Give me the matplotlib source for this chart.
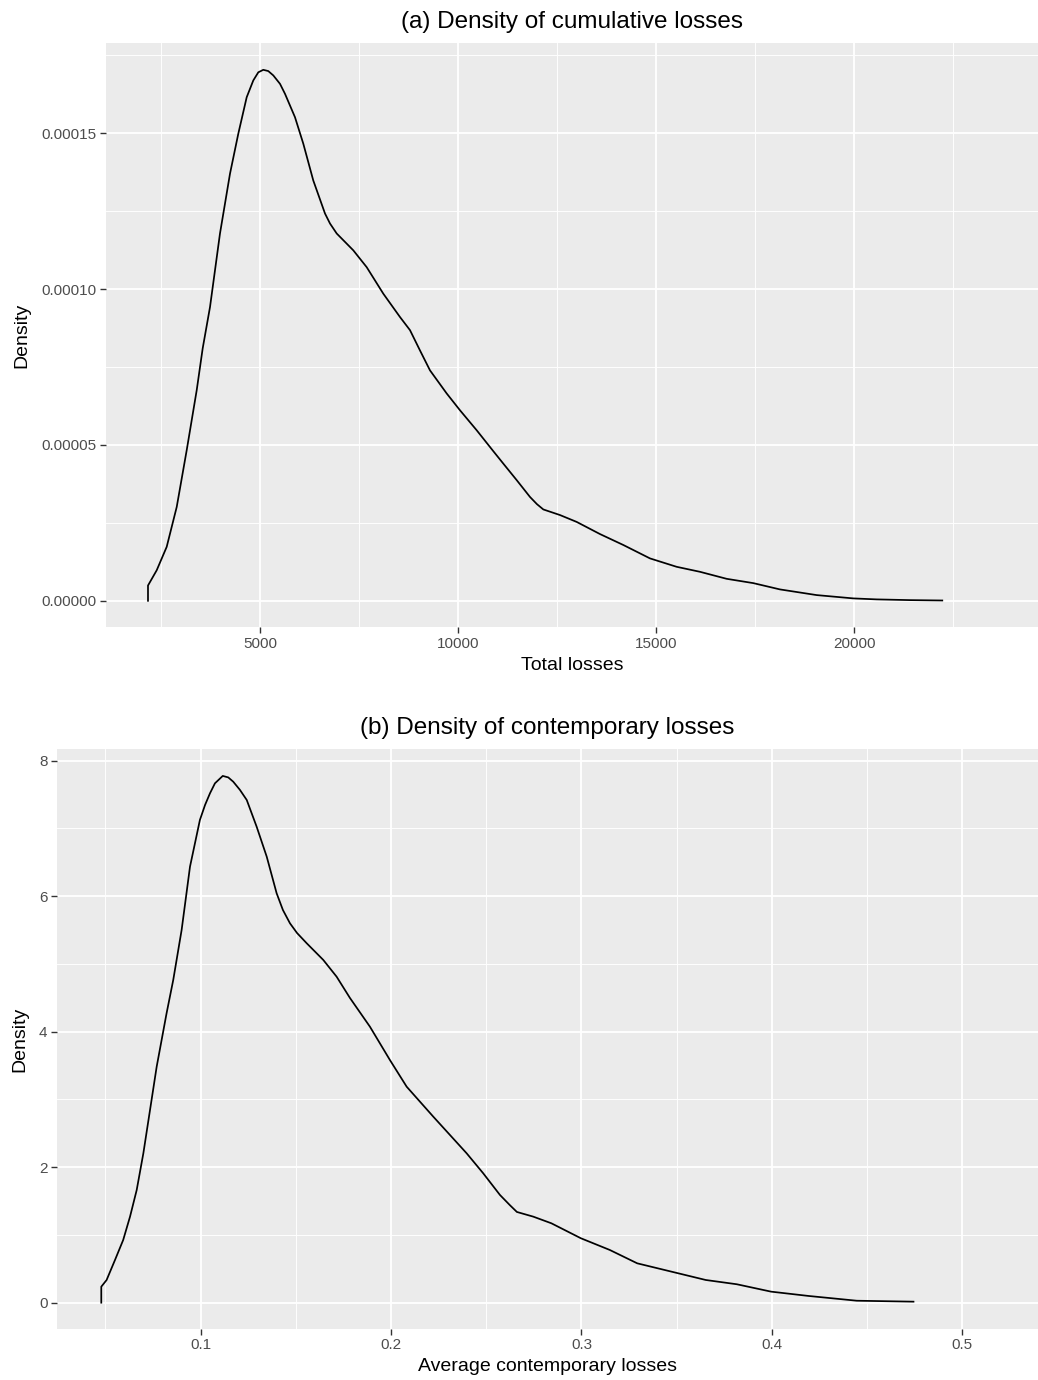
import matplotlib
matplotlib.use("Agg")
import matplotlib.pyplot as plt
from matplotlib.ticker import FixedLocator, FuncFormatter

plt.rcParams['font.family'] = ['Liberation Sans', 'DejaVu Sans']

# ---------------- data ----------------
# (a) Density of cumulative losses
total_losses = [2173, 2173, 2393, 2645, 2898, 3150, 3402, 3554, 3738, 3990, 4243, 4452,
                4664, 4831, 4957, 5083, 5209, 5336, 5505, 5631, 5883, 6093, 6345, 6641,
                6767, 6936, 7355, 7693, 8112, 8534, 8786, 9038, 9291, 9712, 10048, 10469,
                10888, 11141, 11479, 11815, 11990, 12151, 12572, 12993, 13582, 14170,
                14843, 15517, 16105, 16779, 17451, 18125, 19051, 19975, 20565, 21406,
                22221]
density_a = [0.0, 0.49e-5, 0.98e-5, 1.73e-5, 3.01e-5, 4.83e-5, 6.75e-5, 8.10e-5, 9.42e-5,
             11.78e-5, 13.70e-5, 14.98e-5, 16.15e-5, 16.69e-5, 16.95e-5, 17.03e-5,
             16.99e-5, 16.85e-5, 16.58e-5, 16.26e-5, 15.51e-5, 14.66e-5, 13.48e-5,
             12.42e-5, 12.10e-5, 11.78e-5, 11.24e-5, 10.70e-5, 9.85e-5, 9.10e-5, 8.68e-5,
             8.03e-5, 7.39e-5, 6.65e-5, 6.11e-5, 5.47e-5, 4.80e-5, 4.40e-5, 3.87e-5,
             3.33e-5, 3.10e-5, 2.93e-5, 2.75e-5, 2.53e-5, 2.14e-5, 1.79e-5, 1.36e-5,
             1.09e-5, 0.93e-5, 0.705e-5, 0.567e-5, 0.365e-5, 0.183e-5, 0.077e-5,
             0.045e-5, 0.022e-5, 0.01e-5]
ticks_a_x = [5000, 10000, 15000, 20000]
ticks_a_y = [0.0, 0.00005, 0.00010, 0.00015]

# (b) Density of contemporary losses
avg_losses = [0.0478, 0.0478, 0.0506, 0.0550, 0.0593, 0.0629, 0.0664, 0.0699, 0.0734,
              0.0769, 0.0821, 0.0856, 0.0900, 0.0944, 0.0996, 0.1023, 0.1049, 0.1075,
              0.1116, 0.1145, 0.1171, 0.1206, 0.1242, 0.1294, 0.1347, 0.1399, 0.1432,
              0.1469, 0.1506, 0.1557, 0.1644, 0.1714, 0.1784, 0.1889, 0.1994, 0.2082,
              0.2222, 0.2397, 0.2484, 0.2572, 0.2624, 0.2661, 0.2747, 0.2842, 0.2997,
              0.3149, 0.3293, 0.3473, 0.3653, 0.3816, 0.3996, 0.4194, 0.4446, 0.4744]
density_b = [0.0, 0.236, 0.335, 0.630, 0.925, 1.270, 1.663, 2.205, 2.844, 3.484, 4.272,
             4.764, 5.501, 6.436, 7.125, 7.346, 7.519, 7.666, 7.775, 7.753, 7.690, 7.570,
             7.420, 7.026, 6.583, 6.043, 5.796, 5.600, 5.457, 5.305, 5.059, 4.812, 4.498,
             4.074, 3.582, 3.188, 2.745, 2.205, 1.910, 1.590, 1.440, 1.339, 1.270, 1.172,
             0.951, 0.778, 0.581, 0.458, 0.335, 0.272, 0.163, 0.099, 0.029, 0.015]
ticks_b_x = [0.1, 0.2, 0.3, 0.4, 0.5]
ticks_b_y = [0, 2, 4, 6, 8]

# ---------------- figure ----------------
fig = plt.figure(figsize=(10.38, 13.80), dpi=100)
ax1 = fig.add_axes([106/1038, 1 - 627.3/1380, (1038-106)/1038, (627.3-43)/1380])
ax2 = fig.add_axes([57.3/1038, 1 - 1328.7/1380, (1038-57.3)/1038, (1328.7-749.3)/1380])

BG = '#EBEBEB'
TICKC = '#4D4D4D'


def style(ax, xmaj, xmin, ymaj, ymin):
    ax.set_facecolor(BG)
    for s in ax.spines.values():
        s.set_visible(False)
    ax.xaxis.set_major_locator(FixedLocator(xmaj))
    ax.xaxis.set_minor_locator(FixedLocator(xmin))
    ax.yaxis.set_major_locator(FixedLocator(ymaj))
    ax.yaxis.set_minor_locator(FixedLocator(ymin))
    ax.grid(True, which='major', color='white', linewidth=1.3)
    ax.grid(True, which='minor', color='white', linewidth=0.65)
    ax.set_axisbelow(True)
    ax.tick_params(which='major', length=4, width=1.0, color='#333333',
                   labelsize=11, labelcolor=TICKC, pad=3)
    ax.tick_params(which='minor', length=0)


ax1.plot(total_losses, density_a, color='black', linewidth=1.25,
         solid_joinstyle='round', antialiased=True)
ax1.set_xlim(1113, 24637)
ax1.set_ylim(-0.0000085, 0.0001789)
style(ax1, ticks_a_x, [2500, 7500, 12500, 17500, 22500], ticks_a_y,
      [0.000025, 0.000075, 0.000125, 0.000175])
ax1.yaxis.set_major_formatter(FuncFormatter(lambda v, p: f"{v:.5f}"))
ax1.xaxis.set_major_formatter(FuncFormatter(lambda v, p: f"{v:.0f}"))
ax1.set_xlabel("Total losses", fontsize=14, labelpad=4)
ax1.set_ylabel("Density", fontsize=14, labelpad=8)
ax1.set_title("(a) Density of cumulative losses", fontsize=17.5, pad=11)

ax2.plot(avg_losses, density_b, color='black', linewidth=1.25,
         solid_joinstyle='round', antialiased=True)
ax2.set_xlim(0.0247, 0.5398)
ax2.set_ylim(-0.384, 8.168)
style(ax2, ticks_b_x, [0.05, 0.15, 0.25, 0.35, 0.45], ticks_b_y, [1, 3, 5, 7])
ax2.xaxis.set_major_formatter(FuncFormatter(lambda v, p: f"{v:.1f}"))
ax2.yaxis.set_major_formatter(FuncFormatter(lambda v, p: f"{v:.0f}"))
ax2.set_xlabel("Average contemporary losses", fontsize=14, labelpad=4)
ax2.set_ylabel("Density", fontsize=14, labelpad=8)
ax2.set_title("(b) Density of contemporary losses", fontsize=17.5, pad=11)

fig.savefig("out.png", dpi=100, facecolor='white')
